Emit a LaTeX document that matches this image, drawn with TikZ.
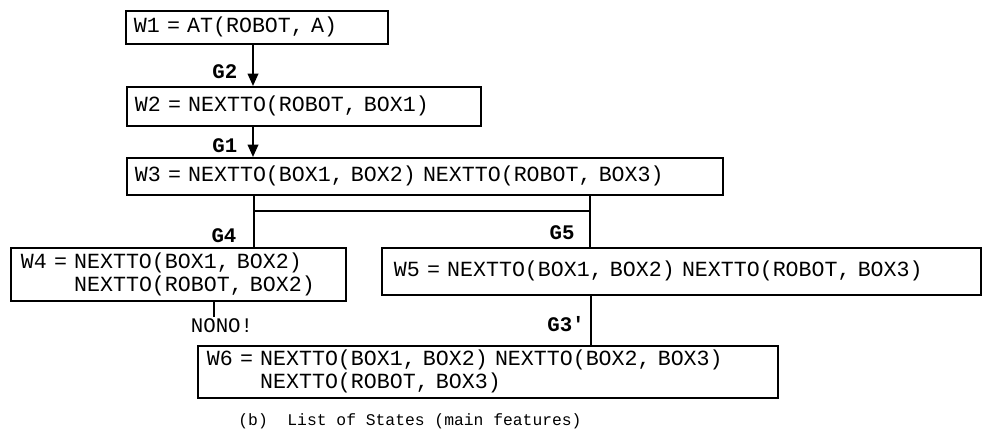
\documentclass[tikz,border=0pt]{standalone}
\usepackage{fontspec}
\setmonofont{Liberation Mono}
\usetikzlibrary{arrows.meta, positioning, calc}

\begin{document}
\begin{tikzpicture}[x=0.02cm, y=-0.02cm,
    state/.style={draw, line width=1pt, anchor=north west, inner xsep=0.16cm, inner ysep=0pt,
      align=left, font=\ttfamily\fontsize{12.3}{13.1}\selectfont},
    goal/.style={font=\ttfamily\bfseries\fontsize{11.8}{13}\selectfont, inner sep=1pt},
    flow/.style={line width=1pt},
    arr/.style={flow, -{Triangle[length=7pt, width=6pt]}}]
  \useasboundingbox (0,0) rectangle (984,439);
  % states (pixel grid, origin top left)
  \node[state, text width=4.92cm, minimum height=0.66cm] (W1) at (125,10) {W1 = AT(ROBOT, A)};
  \node[state, text width=6.76cm, minimum height=0.78cm] (W2) at (126,86) {W2 = NEXTTO(ROBOT, BOX1)};
  \node[state, text width=11.6cm, minimum height=0.74cm] (W3) at (126,157) {W3 = NEXTTO(BOX1, BOX2) NEXTTO(ROBOT, BOX3)};
  \node[state, text width=6.3cm, minimum height=1.06cm, inner xsep=0.2cm] (W4) at (10,247)
    {W4 = NEXTTO(BOX1, BOX2)\\\phantom{W4 = }NEXTTO(ROBOT, BOX2)};
  \node[state, text width=11.5cm, minimum height=0.94cm, inner xsep=0.24cm] (W5) at (381,247)
    {W5 = NEXTTO(BOX1, BOX2) NEXTTO(ROBOT, BOX3)};
  \node[state, text width=11.24cm, minimum height=1.04cm, inner xsep=0.18cm] (W6) at (197,345)
    {W6 = NEXTTO(BOX1, BOX2) NEXTTO(BOX2, BOX3)\\\phantom{W6 = }NEXTTO(ROBOT, BOX3)};
  % branch points
  \coordinate (a1) at (253,0);
  \coordinate (b4) at (254,211);
  \coordinate (b5) at (590,211);
  \coordinate (c4) at (214,317);
  \coordinate (c6) at (591,0);
  % connectors
  \draw[arr] (W1.south -| a1) -- node[goal, left=0.26cm, pos=0.65] (G2) {G2} (W2.north -| a1);
  \draw[arr] (W2.south -| a1) -- node[goal, left=0.26cm, pos=0.62] (G1) {G1} (W3.north -| a1);
  \draw[flow] (W3.south -| b4) -- (W4.north -| b4);
  \draw[flow] (W3.south -| b5) -- (W5.north -| b5);
  \draw[flow] (b4) -- (b5);
  \draw[flow] (W4.south -| c4) -- (c4);
  \draw[flow] (W5.south -| c6) -- (W6.north -| c6);
  % labels
  \node[goal] (G4) at (224,236) {G4};
  \node[goal] (G5) at (562,233) {G5};
  \node[goal] (G3) at (566,324) {G3'};
  \node[font=\ttfamily\fontsize{11.8}{13}\selectfont, inner sep=1pt] (nono) at (222,326) {NONO!};
  \node[font=\ttfamily\fontsize{9.3}{11}\selectfont] (cap) at (410,421) {(b)\ \ List of States (main features)};
\end{tikzpicture}
\end{document}
